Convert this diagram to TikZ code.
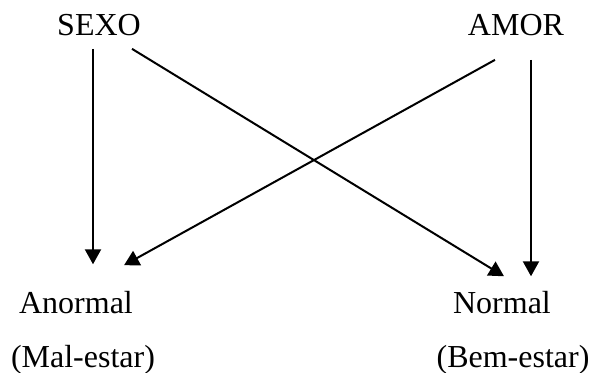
\documentclass[tikz,border=0pt]{standalone}
\usepackage{fontspec}
\setmainfont{Liberation Serif}
\usetikzlibrary{arrows.meta}

\begin{document}
\begin{tikzpicture}[x=0.375pt, y=-0.375pt,
   every node/.style={inner sep=0pt, anchor=base, font=\fontsize{12}{14}\selectfont},
   seta/.style={line width=0.75pt, -{Triangle[length=5.6pt, width=6pt]}}]
   
   \useasboundingbox (0,0) rectangle (589,372);
   
   \node (sexo) at (99,35) {SEXO};
   \node (amor) at (516,35) {AMOR};
   
   \node (anormal) at (76,313) {Anormal};
   \node (normal) at (502,313) {Normal};
   
   \node (mal) at (83,367) {(Mal-estar)};
   \node (bem) at (513,367) {(Bem-estar)};
   
   \draw[seta] ([shift={(-6,13)}]sexo.south) -- ([shift={(17,-26)}]anormal.north);
   \draw[seta] ([shift={(33,13)}]sexo.south) -- ([shift={(2,-14)}]normal.north);
   
   \draw[seta] ([shift={(-21,24)}]amor.south) -- ([shift={(48,-25)}]anormal.north);
   \draw[seta] ([shift={(15,24)}]amor.south) -- ([shift={(29,-14)}]normal.north);
   
\end{tikzpicture}
\end{document}
